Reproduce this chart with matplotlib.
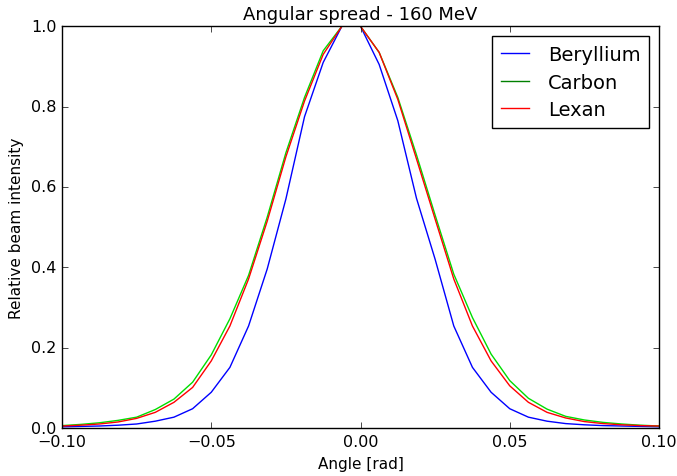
import matplotlib
matplotlib.use("Agg")
import matplotlib.pyplot as plt
from matplotlib.lines import Line2D
import numpy as np

plt.style.use('classic')

angle = [-0.1 + 0.00625 * i for i in range(33)]

beryllium = [0.003, 0.004, 0.005, 0.007, 0.010, 0.017, 0.027, 0.048, 0.089, 0.151,
             0.254, 0.396, 0.570, 0.775, 0.910, 1.000, 1.000, 0.905, 0.765, 0.572,
             0.420, 0.254, 0.151, 0.089, 0.048, 0.027, 0.017, 0.011, 0.008, 0.006,
             0.005, 0.004, 0.003]
carbon = [0.006, 0.009, 0.013, 0.019, 0.027, 0.046, 0.072, 0.114, 0.182, 0.272,
          0.380, 0.525, 0.685, 0.823, 0.939, 1.000, 1.000, 0.935, 0.823, 0.680,
          0.530, 0.383, 0.275, 0.184, 0.118, 0.074, 0.047, 0.029, 0.020, 0.014,
          0.010, 0.007, 0.005]
lexan = [0.005, 0.007, 0.010, 0.015, 0.024, 0.039, 0.064, 0.101, 0.167, 0.254,
         0.371, 0.515, 0.675, 0.814, 0.930, 1.000, 1.000, 0.935, 0.818, 0.670,
         0.520, 0.371, 0.254, 0.167, 0.105, 0.064, 0.039, 0.025, 0.016, 0.011,
         0.008, 0.006, 0.005]

labels = ["Beryllium", "Carbon", "Lexan"]
line_colors = ["#0000ff", "#00dd00", "#ff0000"]
legend_colors = ["#0000ff", "#008000", "#ff0000"]

fig = plt.figure(figsize=(6.77, 4.77), dpi=100, facecolor='white')
ax = fig.add_axes([0.0916, 0.1006, 0.8818, 0.8422])

for y, c in zip([beryllium, carbon, lexan], line_colors):
    ax.plot(angle, y, color=c, lw=1.0)

ax.set_xlim(-0.1, 0.1)
ax.set_ylim(0.0, 1.0)
ax.set_xticks([-0.10, -0.05, 0.00, 0.05, 0.10])
ax.set_xticklabels(["\u22120.10", "\u22120.05", "0.00", "0.05", "0.10"])
ax.set_yticks([0.0, 0.2, 0.4, 0.6, 0.8, 1.0])
ax.tick_params(labelsize=11.5)
ax.set_title("Angular spread - 160 MeV", fontsize=13)
ax.set_xlabel("Angle [rad]", fontsize=11)
ax.set_ylabel("Relative beam intensity", fontsize=11)

handles = [Line2D([], [], color=c, lw=1.0) for c in legend_colors]
ax.legend(handles, labels, loc='upper right', fontsize=14, frameon=True,
          fancybox=False, shadow=False, numpoints=1,
          handlelength=1.45, handletextpad=0.95, borderpad=0.45,
          labelspacing=0.45, borderaxespad=0.5)

fig.savefig("out.png", dpi=100, facecolor='white')
